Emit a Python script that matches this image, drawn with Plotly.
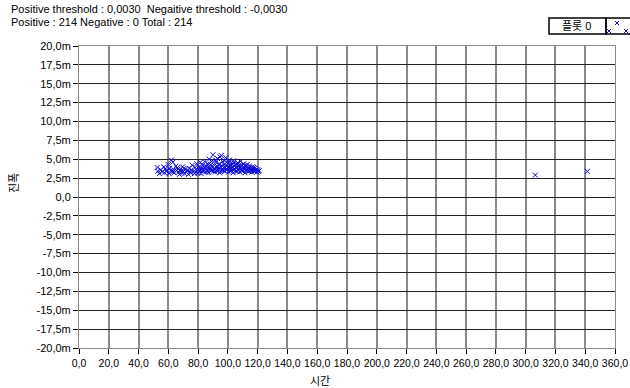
import plotly.graph_objects as go

# ---- data (time in s, amplitude in milli-units) ----
cluster_x = [52.5, 53, 54, 55, 56, 57, 57.5, 58, 59, 60, 60.5, 61, 62, 62.5, 63, 63.5, 64, 65, 65.5, 66,
             67, 67.5, 68, 69, 69.5, 70, 71, 71.5, 72, 73, 73.5, 74, 75, 75.5, 76, 77, 77.5, 78,
             78.5, 79, 79.5, 80, 80.5, 81, 81.5, 82, 82.5, 83, 83.5, 84, 84.5, 85, 85.5, 86, 86.5, 87,
             87.5, 88, 88.5, 89, 89.5, 90, 90.5, 91, 91.5, 92, 92.5, 93, 93.5, 94, 94.5, 95, 95.5, 96,
             96.5, 97, 97.5, 98, 98.5, 99, 99.5, 100, 100.5, 101, 101.5, 102, 102.5, 103, 103.5, 104,
             104.5, 105, 105.5, 106, 106.5, 107, 107.5, 108, 108.5, 109, 109.5, 110, 110.5, 111, 111.5,
             112, 112.5, 113, 113.5, 114, 114.5, 115, 115.5, 116, 116.5, 117, 117.5, 118, 118.5, 119,
             119.5, 120, 120.5, 121,
             85.2, 86.2, 87.2, 88.2, 89.2, 90.2, 91.2, 92.2, 93.2, 94.2, 95.2, 96.2, 97.2, 98.2, 99.2,
             100.2, 101.2, 102.2, 103.2, 104.2, 105.2, 106.2, 107.2, 108.2, 109.2, 110.2, 111.2, 112.2,
             113.2, 114.2, 115.2, 116.2, 117.2, 118.2, 91.7, 94.7, 97.7, 100.7, 103.7, 106.7, 83.7,
             80.7, 82.7, 66.5, 70.5, 74.5, 63.2, 58.5, 61.5, 68.5]
cluster_y = [3.9, 3.4, 3.1, 3.6, 3.3, 4.0, 3.2, 3.7, 3.5, 4.3, 3.1, 3.8, 4.9, 3.4, 4.6, 3.6, 3.2, 4.1, 3.5, 3.9,
             3.3, 3.0, 3.6, 3.2, 4.0, 3.4, 3.1, 3.7, 3.3, 3.5, 3.0, 3.8, 3.2, 3.6, 4.2, 3.4, 3.1, 3.9,
             3.3, 4.4, 3.6, 3.2, 4.0, 3.5, 4.6, 3.1, 3.8, 4.2, 3.4, 3.9, 4.7, 3.3, 4.1, 3.6, 4.4, 3.2,
             5.0, 3.8, 4.3, 3.5, 4.8, 5.6, 3.7, 4.2, 3.3, 4.6, 3.9, 5.1, 3.5, 4.4, 3.2, 4.0, 5.5, 3.6,
             4.7, 3.9, 4.3, 3.4, 5.2, 4.1, 3.7, 4.5, 3.3, 4.9, 3.8, 4.2, 3.5, 4.0, 3.2, 4.6,
             3.7, 4.3, 3.4, 3.9, 4.5, 3.6, 4.1, 3.3, 4.7, 3.8, 4.2, 3.5, 4.4, 3.9, 3.2,
             4.0, 3.6, 4.3, 3.4, 3.8, 4.1, 3.5, 3.9, 3.3, 4.0, 3.6, 3.4, 3.8, 3.5, 3.7,
             3.3, 3.6, 3.4, 3.5,
             3.9, 3.4, 4.0, 3.6, 4.1, 3.4, 3.8, 3.5, 4.0, 3.7, 3.4, 4.1, 3.5, 3.9, 3.6,
             4.0, 3.5, 3.8, 4.3, 3.6, 3.9, 3.4, 3.8, 4.0, 3.5, 3.9, 3.6, 4.2,
             3.7, 3.4, 3.7, 3.5, 3.9, 3.4, 4.9, 5.3, 4.8, 4.6, 4.8, 4.5, 3.6,
             3.7, 3.5, 3.7, 3.8, 3.4, 3.3, 3.4, 3.5, 3.4]
outlier_x = [306.5, 341.5]
outlier_y = [2.9, 3.4]

x_tick_vals = [0, 20, 40, 60, 80, 100, 120, 140, 160, 180, 200, 220, 240, 260, 280, 300, 320, 340, 360]
x_tick_text = ["0,0", "20,0", "40,0", "60,0", "80,0", "100,0", "120,0", "140,0", "160,0", "180,0",
               "200,0", "220,0", "240,0", "260,0", "280,0", "300,0", "320,0", "340,0", "360,0"]
y_tick_vals = [20, 17.5, 15, 12.5, 10, 7.5, 5, 2.5, 0, -2.5, -5, -7.5, -10, -12.5, -15, -17.5, -20]
y_tick_text = ["20,0m", "17,5m", "15,0m", "12,5m", "10,0m", "7,5m", "5,0m", "2,5m", "0,0",
               "-2,5m", "-5,0m", "-7,5m", "-10,0m", "-12,5m", "-15,0m", "-17,5m", "-20,0m"]

header1 = "Positive threshold : 0,0030  Negaitive threshold : -0,0030"
header2 = "Positive : 214 Negative : 0 Total : 214"
legend_name = "플롯 0"
x_title = "시간"
y_title = "진폭"

W, H = 630, 388
L, R, T, B = 79, 15, 46, 40
pw, ph = W - L - R, H - T - B


def px(xp):
    return (xp - L) / pw


def py(yp):
    return (H - B - yp) / ph


FONT = "Liberation Sans, Noto Sans CJK KR, sans-serif"
BLUE = "rgb(10,10,215)"

fig = go.Figure()
fig.add_trace(go.Scatter(x=cluster_x + outlier_x, y=cluster_y + outlier_y, mode="markers",
                         marker=dict(symbol="x-thin", size=5, line=dict(color=BLUE, width=1)),
                         showlegend=False))

fig.update_layout(
    width=W, height=H, margin=dict(l=L, r=R, t=T, b=B, autoexpand=False),
    paper_bgcolor="white", plot_bgcolor="white",
    font=dict(family=FONT, size=11, color="black"),
    showlegend=False,
    xaxis=dict(range=[0, 360], tickvals=x_tick_vals, ticktext=x_tick_text,
               showgrid=True, gridcolor="#8a8a8a", gridwidth=2, zeroline=False,
               showline=True, linecolor="#8a8a8a", linewidth=1, mirror=True,
               ticks="outside", ticklen=5, tickcolor="black", tickfont=dict(size=10.5),
               tickangle=0, automargin=False, ticklabeloverflow="allow"),
    yaxis=dict(range=[-20, 20], tickvals=y_tick_vals, ticktext=y_tick_text,
               showgrid=True, gridcolor="#222222", gridwidth=1, zeroline=False,
               showline=True, linecolor="#8a8a8a", linewidth=1, mirror=True,
               ticks="outside", ticklen=5, tickcolor="black", tickfont=dict(size=11),
               automargin=False),
)

ann = [
    dict(text=header1, x=px(9), y=py(9), xanchor="left", yanchor="middle"),
    dict(text=header2, x=px(9), y=py(22), xanchor="left", yanchor="middle"),
    dict(text=x_title, x=px(320), y=py(381), xanchor="center", yanchor="middle"),
    dict(text=y_title, x=px(14), y=py(183), xanchor="center", yanchor="middle", textangle=-90),
    dict(text=legend_name, x=px(576), y=py(26), xanchor="center", yanchor="middle"),
]
for a in ann:
    a.update(xref="paper", yref="paper", showarrow=False, font=dict(family=FONT, size=11, color="black"))
fig.update_layout(annotations=ann)

shapes = [
    dict(type="rect", x0=px(549), x1=px(606), y0=py(34), y1=py(18), line=dict(color="black", width=1.5)),
    dict(type="rect", x0=px(606), x1=px(640), y0=py(34), y1=py(18), line=dict(color="black", width=1.5)),
]
for cx, cy in [(609, 31), (617, 23), (626, 31)]:
    shapes.append(dict(type="path",
                       path=f"M {px(cx-2)} {py(cy-2)} L {px(cx+2)} {py(cy+2)} M {px(cx-2)} {py(cy+2)} L {px(cx+2)} {py(cy-2)}",
                       line=dict(color=BLUE, width=1)))
for s in shapes:
    s.update(xref="paper", yref="paper", layer="above")
fig.update_layout(shapes=shapes)

fig.write_html("out.html")
